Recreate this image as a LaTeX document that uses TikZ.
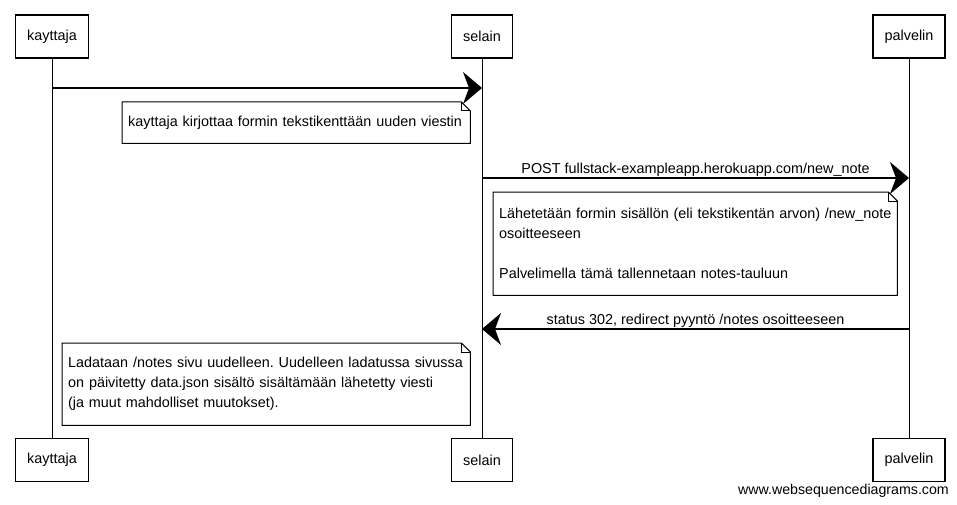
\documentclass[tikz,border=0pt]{standalone}
\usepackage{fontspec}
\setmainfont{Liberation Sans}
\usetikzlibrary{arrows.meta}
\frenchspacing
\begin{document}
\begin{tikzpicture}[x=1pt,y=-1pt,
  every node/.style={font=\fontsize{14.4pt}{20pt}\selectfont},
  actor/.style={draw,line width=1.2pt,minimum height=43pt,inner xsep=11.5pt,inner ysep=0pt},
  lifeline/.style={line width=1pt},
  msg/.style={line width=1.4pt,-{Stealth[length=19pt,width=32pt,inset=6pt]}},
  notetext/.style={align=left,inner xsep=6pt,inner ysep=0pt,anchor=north west},
  noteline/.style={line width=1pt},
  msglabel/.style={above,midway,inner sep=1pt}
]
\useasboundingbox (0,0) rectangle (957,505);

% actors
\node[actor] (ka) at (52,36.5) {kayttaja};
\node[actor] (sa) at (482,36.5) {selain};
\node[actor] (pa) at (909,36.5) {palvelin};
\node[actor] (kb) at (52,460) {kayttaja};
\node[actor] (sb) at (482,460) {selain};
\node[actor] (pb) at (909,460) {palvelin};

% lifelines
\draw[lifeline] (ka.south) -- (kb.north);
\draw[lifeline] (sa.south) -- (sb.north);
\draw[lifeline] (pa.south) -- (pb.north);

% message anchors
\coordinate (k1) at (52,88);
\coordinate (s1) at (482,88);
\coordinate (s2) at (482,178);
\coordinate (p2) at (909,178);
\coordinate (p3) at (909,329);
\coordinate (s3) at (482,329);

\draw[msg] (k1) -- (s1);
\draw[msg] (s2) -- node[msglabel] {POST fullstack-exampleapp.herokuapp.com/new\_note} (p2);
\draw[msg] (p3) -- node[msglabel] {status 302, redirect pyyntö /notes osoitteeseen} (s3);

% note 1
\node[notetext,text width=336pt,minimum height=41pt] (n1) at (122,102)
  {\mbox{kayttaja kirjottaa formin tekstikenttään uuden viestin}};
% note 2
\node[notetext,text width=392pt,minimum height=103pt] (n2) at (493,192)
  {\mbox{Lähetetään formin sisällön (eli tekstikentän arvon) /new\_note}\\
   osoitteeseen\\[20pt]
   \mbox{Palvelimella tämä tallennetaan notes-tauluun}};
% note 3
\node[notetext,text width=396pt,minimum height=82pt] (n3) at (62,343)
  {\mbox{Ladataan /notes sivu uudelleen. Uudelleen ladatussa sivussa}\\
   \mbox{on päivitetty data.json sisältö sisältämään lähetetty viesti}\\
   \mbox{(ja muut mahdolliset muutokset).}};

\foreach \n in {n1,n2,n3}{
  \draw[noteline] (\n.north west) -- ([xshift=-9pt]\n.north east)
     -- ([yshift=-9pt]\n.north east) -- (\n.south east) -- (\n.south west) -- cycle;
  \draw[noteline] ([xshift=-9pt]\n.north east) |- ([yshift=-9pt]\n.north east);
}

% footer
\node[anchor=east,inner sep=0pt,font=\fontsize{14.2pt}{17pt}\selectfont] (wm) at (949,491) {www.websequencediagrams.com};
\end{tikzpicture}
\end{document}
